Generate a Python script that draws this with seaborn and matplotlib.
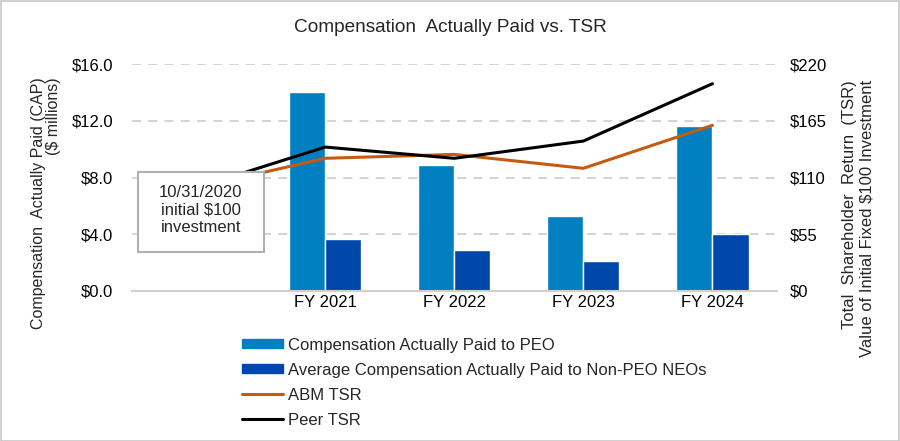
import matplotlib
matplotlib.use("Agg")
import matplotlib.pyplot as plt
import matplotlib.patches as mpatches
from matplotlib.lines import Line2D
from matplotlib.ticker import FuncFormatter, FixedLocator
import numpy as np
import pandas as pd
import seaborn as sns

# data
years = ["FY 2020", "FY 2021", "FY 2022", "FY 2023", "FY 2024"]
tick_labels = ["", "FY 2021", "FY 2022", "FY 2023", "FY 2024"]
cap_peo = [np.nan, 14.0, 8.9, 5.3, 11.6]
cap_neo = [np.nan, 3.7, 2.9, 2.1, 4.0]
abm_tsr = [100, 128.6, 132.4, 118.9, 160.6]
peer_tsr = [100, 139.5, 128.6, 145.3, 200.9]

series_names = ["Compensation Actually Paid to PEO",
                "Average Compensation Actually Paid to Non-PEO NEOs"]
bar_colors = ["#0080C0", "#0047AB"]
abm_color = "#C55A11"
peer_color = "#000000"

sns.set_theme(style="white")
plt.rcParams["font.family"] = ["Liberation Sans", "DejaVu Sans"]

bars = pd.DataFrame({
    "year": years * 2,
    "series": [series_names[0]] * len(years) + [series_names[1]] * len(years),
    "value": cap_peo + cap_neo,
})

fig = plt.figure(figsize=(9, 4.41), dpi=100)
ax = fig.add_axes([131.5 / 900, 1 - 291 / 441, 645.5 / 900, 227 / 441])

sns.barplot(data=bars, x="year", y="value", hue="series", order=years,
            hue_order=series_names, palette=bar_colors, width=0.56,
            saturation=1, ax=ax, legend=False)
ax.set_ylim(0, 16)
ax.set_xlim(-0.5, len(years) - 0.5)
ax.yaxis.set_major_locator(FixedLocator([0, 4, 8, 12, 16]))
ax.yaxis.set_major_formatter(FuncFormatter(lambda v, _: f"${v:.1f}"))
ax.set_xticks(range(len(years)))
ax.set_xticklabels(tick_labels)
ax.set_xlabel("")
ax.set_ylabel("")
ax.tick_params(axis="both", labelsize=12, length=0, colors="#000000")
ax.tick_params(axis="y", pad=13)
ax.tick_params(axis="x", pad=3)
for side in ["top", "right", "left"]:
    ax.spines[side].set_visible(False)
ax.spines["bottom"].set_color("#d0d0d0")
ax.spines["bottom"].set_linewidth(1.5)
for v in [4, 8, 12, 16]:
    ax.axhline(v, color="#d0d0d0", lw=1.3, ls=(0, (5, 4)), zorder=0)

ax2 = ax.twinx()
pos = np.arange(len(years))
sns.lineplot(x=pos, y=abm_tsr, color=abm_color, lw=2.2, ax=ax2)
sns.lineplot(x=pos, y=peer_tsr, color=peer_color, lw=2.2, ax=ax2)
ax2.set_ylim(0, 220)
ax2.yaxis.set_major_locator(FixedLocator([0, 55, 110, 165, 220]))
ax2.yaxis.set_major_formatter(FuncFormatter(lambda v, _: f"${v:.0f}"))
ax2.tick_params(axis="y", labelsize=12, length=0, pad=9, colors="#000000")
for side in ["top", "right", "left", "bottom"]:
    ax2.spines[side].set_visible(False)
ax2.set_xlim(-0.5, len(years) - 0.5)

# callout box over the starting point
box = mpatches.Rectangle((0.010, 0.172), 0.195, 0.352, transform=ax2.transAxes,
                         facecolor="white", edgecolor="#b0b0b0", lw=1.5,
                         zorder=5, clip_on=False)
ax2.add_patch(box)
ax2.text(0.1075, 0.356, "10/31/2020\ninitial $100\ninvestment", transform=ax2.transAxes,
         ha="center", va="center", fontsize=12, linespacing=1.2, zorder=6)

# titles and axis labels
fig.text(0.5, 1 - 28 / 441, "Compensation  Actually Paid vs. TSR",
         ha="center", va="center", fontsize=13.7)
fig.text(46 / 900, 1 - 77 / 441, "Compensation  Actually Paid (CAP)\n($ millions)",
         rotation=90, ha="center", va="top", multialignment="right",
         fontsize=11.5, linespacing=1.0)
fig.text(858 / 900, 1 - 80 / 441,
         "Total  Shareholder  Return  (TSR)\nValue of Initial Fixed $100 Investment",
         rotation=90, ha="center", va="top", multialignment="right",
         fontsize=12, linespacing=1.2)

handles = [
    mpatches.Patch(color=bar_colors[0], label=series_names[0]),
    mpatches.Patch(color=bar_colors[1], label=series_names[1]),
    Line2D([0], [0], color=abm_color, lw=2.2, label="ABM TSR"),
    Line2D([0], [0], color=peer_color, lw=2.2, label="Peer TSR"),
]
fig.legend(handles=handles, loc="upper left", bbox_to_anchor=(235 / 900, 1 - 331 / 441),
           frameon=False, fontsize=12, handlelength=2.5, handleheight=0.45,
           handletextpad=0.3, labelspacing=0.6, borderaxespad=0)

fig.patches.append(mpatches.Rectangle((0.001, 0.001), 0.998, 0.997, transform=fig.transFigure,
                                      fill=False, edgecolor="#c8c8c8", lw=1.2))

fig.savefig("out.png", dpi=100)
